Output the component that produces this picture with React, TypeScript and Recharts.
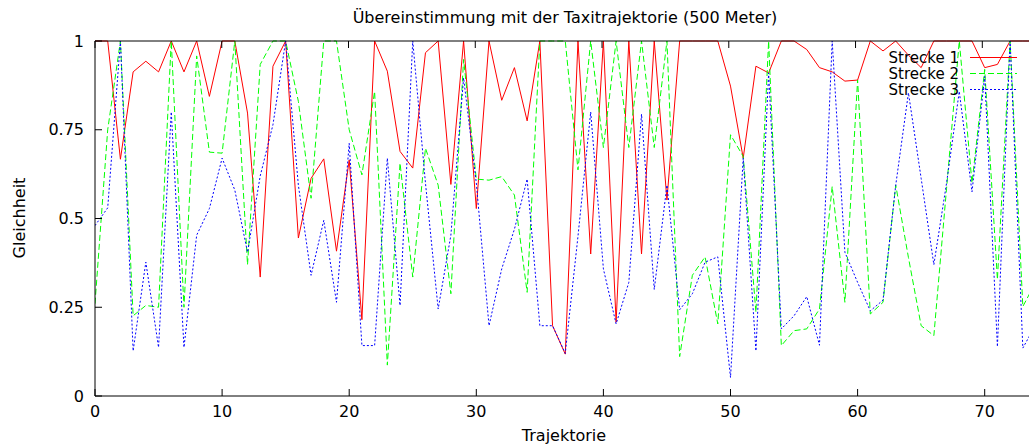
import { LineChart, Line, XAxis, YAxis, Legend } from "recharts";

// Trajektorie-Index
const trajectories = [
  0, 1, 2, 3, 4, 5, 6, 7, 8, 9, 10, 11, 12, 13, 14, 15, 16, 17, 18, 19, 20, 21, 22, 23, 24,
  25, 26, 27, 28, 29, 30, 31, 32, 33, 34, 35, 36, 37, 38, 39, 40, 41, 42, 43, 44, 45, 46, 47, 48, 49,
  50, 51, 52, 53, 54, 55, 56, 57, 58, 59, 60, 61, 62, 63, 64, 65, 66, 67, 68, 69, 70, 71, 72, 73, 74,
];

const strecke1 = [
  1, 1, 0.667, 0.913, 0.943, 0.913, 1, 0.913, 1, 0.844, 1, 1, 0.797, 0.335, 0.929, 1, 0.445, 0.613, 0.668, 0.408,
  0.665, 0.215, 1, 0.915, 0.689, 0.642, 0.967, 1, 0.596, 1, 0.528, 1, 0.833, 0.925, 0.775, 1, 0.198, 0.118, 1, 0.4,
  1, 0.208, 1, 0.4, 1, 0.552, 1, 1, 1, 1, 0.873, 0.67, 0.929, 0.91, 1, 1, 0.976, 0.925, 0.913, 0.887,
  0.89, 1, 0.972, 1, 0.96, 0.925, 1, 1, 1, 1, 0.925, 0.934, 1, 1, 1,
];

const strecke2 = [
  0.26, 0.75, 1, 0.226, 0.255, 0.25, 1, 0.25, 0.958, 0.687, 0.684, 1, 0.37, 0.934, 1, 1, 0.83, 0.557, 1, 1,
  0.75, 0.623, 0.858, 0.087, 0.656, 0.335, 0.698, 0.594, 0.288, 0.948, 0.611, 0.608, 0.618, 0.566, 0.292, 1, 1, 1, 0.637, 1,
  0.7, 1, 0.7, 1, 0.7, 1, 0.111, 0.34, 0.392, 0.203, 0.736, 0.675, 0.236, 1, 0.142, 0.184, 0.189, 0.245, 0.59, 0.264,
  0.89, 0.231, 0.264, 0.594, 0.39, 0.198, 0.17, 0.585, 1, 0.6, 0.92, 0.328, 1, 0.252, 0.32,
];

const strecke3 = [
  0.48, 0.53, 1, 0.127, 0.377, 0.137, 0.8, 0.137, 0.453, 0.528, 0.67, 0.58, 0.405, 0.62, 0.764, 1, 0.594, 0.34, 0.495, 0.264,
  0.712, 0.142, 0.142, 0.67, 0.255, 1, 0.6, 0.245, 0.453, 0.896, 0.6, 0.198, 0.358, 0.47, 0.611, 0.198, 0.198, 0.12, 0.45, 0.8,
  0.358, 0.203, 0.32, 0.794, 0.3, 0.594, 0.243, 0.288, 0.377, 0.392, 0.052, 0.67, 0.127, 0.91, 0.189, 0.226, 0.28, 0.143, 1, 0.405,
  0.32, 0.24, 0.27, 0.594, 0.854, 0.613, 0.37, 0.6, 0.858, 0.575, 0.9, 0.139, 1, 0.135, 0.2,
];

const xTicks = [0, 10, 20, 30, 40, 50, 60, 70];
const yTicks = [0, 0.25, 0.5, 0.75, 1];

const series = [
  { key: "s1", name: "Strecke 1", color: "#ff0000", dash: undefined as string | undefined },
  { key: "s2", name: "Strecke 2", color: "#00ff00", dash: "6 3" },
  { key: "s3", name: "Strecke 3", color: "#0000ff", dash: "2 2" },
];

const data = trajectories.map((x, i) => ({
  x,
  s1: strecke1[i],
  s2: strecke2[i],
  s3: strecke3[i],
}));

const FONT = "'DejaVu Sans', Verdana, sans-serif";
const FS = 16;
const TICK = 7;

const BottomTick = ({ x, y, payload }: any) => (
  <g>
    <line x1={x} y1={y} x2={x} y2={y - TICK} stroke="#000" />
    <text x={x} y={y + 21} textAnchor="middle" fontSize={FS} fontFamily={FONT} fill="#000">
      {payload.value}
    </text>
  </g>
);

const TopTick = ({ x, y }: any) => <line x1={x} y1={y} x2={x} y2={y + TICK} stroke="#000" />;

const LeftTick = ({ x, y, payload }: any) => (
  <g>
    <line x1={x} y1={y} x2={x + TICK} y2={y} stroke="#000" />
    <text x={x - 11} y={y + 5.5} textAnchor="end" fontSize={FS} fontFamily={FONT} fill="#000">
      {payload.value}
    </text>
  </g>
);

const RightTick = ({ x, y }: any) => <line x1={x} y1={y} x2={x - TICK} y2={y} stroke="#000" />;

function KeyBox() {
  return (
    <svg width={170} height={60} style={{ overflow: "visible" }}>
      {series.map((s, i) => {
        const cy = 12.5 + i * 16;
        return (
          <g key={s.key}>
            <text x={99} y={cy + 5.5} textAnchor="end" fontSize={15} fontFamily={FONT} fill="#000">
              {s.name}
            </text>
            <line x1={110} y1={cy} x2={157} y2={cy} stroke={s.color} strokeDasharray={s.dash} />
          </g>
        );
      })}
    </svg>
  );
}

export default function App() {
  return (
    <div
      style={{
        position: "absolute",
        left: 0,
        top: 0,
        width: 1029,
        height: 445,
        overflow: "hidden",
        background: "#fff",
      }}
    >
      <LineChart width={1040} height={445} data={data} margin={{ top: 0, right: 6, bottom: 0, left: 0 }}>
        <XAxis
          dataKey="x"
          type="number"
          domain={[0, 73.8]}
          allowDataOverflow
          ticks={xTicks}
          interval={0}
          height={49}
          tickSize={0}
          tickMargin={0}
          tickLine={false}
          axisLine={{ stroke: "#000" }}
          tick={<BottomTick />}
        />
        <XAxis
          xAxisId="top"
          orientation="top"
          type="number"
          domain={[0, 73.8]}
          ticks={xTicks}
          interval={0}
          height={41}
          tickSize={0}
          tickMargin={0}
          tickLine={false}
          axisLine={{ stroke: "#000" }}
          tick={<TopTick />}
        />
        <YAxis
          type="number"
          domain={[0, 1]}
          ticks={yTicks}
          interval={0}
          width={95}
          tickSize={0}
          tickMargin={0}
          tickLine={false}
          axisLine={{ stroke: "#000" }}
          tick={<LeftTick />}
        />
        <YAxis
          yAxisId="right"
          orientation="right"
          type="number"
          domain={[0, 1]}
          ticks={yTicks}
          interval={0}
          width={1}
          tickSize={0}
          tickMargin={0}
          tickLine={false}
          axisLine={{ stroke: "#000" }}
          tick={<RightTick />}
        />
        <Legend
          layout="horizontal"
          verticalAlign="middle"
          align="center"
          wrapperStyle={{ position: "absolute", left: 860, top: 45, width: 170, height: 60 }}
          content={() => <KeyBox />}
        />
        {series.map((s) => (
          <Line
            key={s.key}
            dataKey={s.key}
            name={s.name}
            type="linear"
            stroke={s.color}
            strokeWidth={1}
            strokeDasharray={s.dash}
            dot={false}
            activeDot={false}
            isAnimationActive={false}
          />
        ))}
      </LineChart>
      <svg
        width={1029}
        height={445}
        style={{ position: "absolute", left: 0, top: 0, pointerEvents: "none" }}
        fontFamily={FONT}
        fontSize={FS}
      >
        <text x={565} y={23} textAnchor="middle" fill="#000">
          Übereinstimmung mit der Taxitrajektorie (500 Meter)
        </text>
        <text x={564} y={441} textAnchor="middle" fill="#000">
          Trajektorie
        </text>
        <text x={25} y={218} textAnchor="middle" fill="#000" transform="rotate(-90 25 218)">
          Gleichheit
        </text>
      </svg>
    </div>
  );
}
